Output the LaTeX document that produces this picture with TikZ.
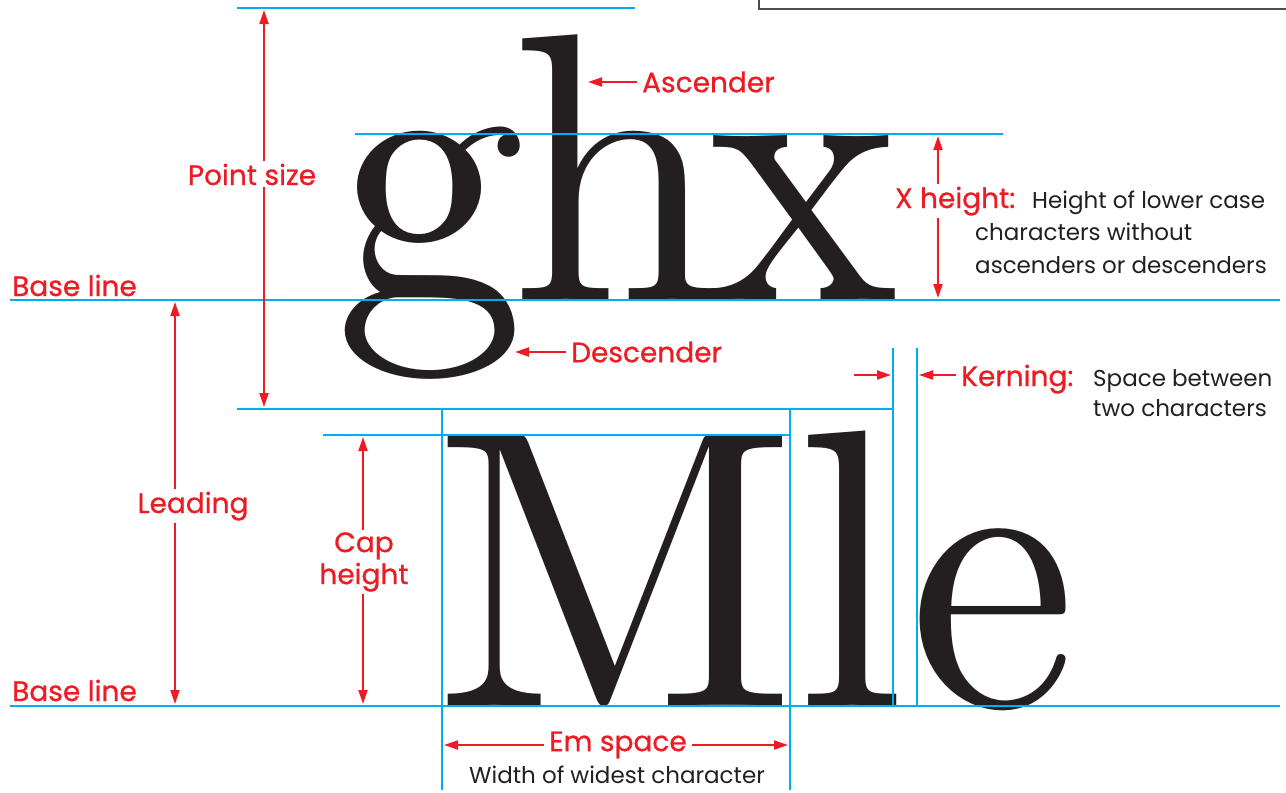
\documentclass[tikz,border=0pt]{standalone}
\usepackage{fontspec}
\newfontfamily\labelfont{Poppins}
\newfontfamily\headfont{Poppins}[FakeBold=0.8]
\newfontfamily\bigfont{lmroman10-regular.otf}
\usepackage{xcolor}
\definecolor{Col1}{RGB}{237,28,36}
\definecolor{Col2}{RGB}{0,174,239}
\definecolor{Col3}{RGB}{35,31,32}
\definecolor{Col4}{RGB}{77,77,77}
\usepackage{tikz}
\usetikzlibrary{arrows.meta}
\tikzstyle{Guide}=[draw=Col2,line width=2pt]
\tikzstyle{Frame}=[draw=Col4,line width=2pt]
\tikzstyle{Arrow}=[draw=Col1,line width=2pt,-{Triangle[length=14pt,width=9pt]}]
\tikzstyle{Label}=[text=Col1,inner xsep=5pt,inner ysep=2pt,font=\headfont\fontsize{28}{32}\selectfont,align=center]
\tikzstyle{Note}=[text=Col3,inner sep=0pt,font=\labelfont\fontsize{23}{32}\selectfont]
\tikzstyle{Glyph}=[text=Col3,inner sep=0pt,anchor=base,font=\bigfont\fontsize{383}{383}\selectfont]
\begin{document}
\begin{tikzpicture}[x=1pt,y=-1pt]
        \useasboundingbox(0,0)rectangle(1286,793);
        % frame of the box above
        \coordinate(f0)at(759,0);
        \coordinate(f1)at(759,9);
        \coordinate(f2)at(1286,9);
        \draw[Frame](f0)--(f1)--(f2);
        % big letters
        \node[Glyph](g)at(430,300){g};
        \node[Glyph](h)at(617,300){h};
        \node[Glyph,xscale=.95](x)at(804,300){x};
        \node[Glyph,font=\bigfont\fontsize{397}{397}\selectfont](M)at(616,706){M};
        \node[Glyph,font=\bigfont\fontsize{397}{397}\selectfont](l)at(851,706){l};
        \node[Glyph,font=\bigfont\fontsize{397}{397}\selectfont,xscale=.95](e)at(993,706){e};
        % guide lines
        \coordinate(t0)at(237,8);
        \coordinate(t1)at(635,8);
        \coordinate(a0)at(355,134);
        \coordinate(a1)at(1003,134);
        \coordinate(b0)at(10,300);
        \coordinate(b1)at(1280,300);
        \coordinate(d0)at(237,409);
        \coordinate(d1)at(893,409);
        \coordinate(c0)at(323,435);
        \coordinate(c1)at(790,435);
        \coordinate(e0)at(10,706);
        \coordinate(e1)at(1280,706);
        \coordinate(v0)at(442,409);
        \coordinate(v1)at(442,790);
        \coordinate(w0)at(790,409);
        \coordinate(w1)at(790,790);
        \coordinate(k0)at(893,348);
        \coordinate(k1)at(893,706);
        \coordinate(n0)at(917,348);
        \coordinate(n1)at(917,706);
        \draw[Guide](t0)--(t1);
        \draw[Guide](a0)--(a1);
        \draw[Guide](b0)--(b1);
        \draw[Guide](d0)--(d1);
        \draw[Guide](c0)--(c1);
        \draw[Guide](e0)--(e1);
        \draw[Guide](v0)--(v1);
        \draw[Guide](w0)--(w1);
        \draw[Guide](k0)--(d1)--(k1);
        \draw[Guide](n0)--(n1);
        % labels
        \node[Label,anchor=base west](bl1)at(7,296){Base line};
        \node[Label,anchor=base west](bl2)at(7,701){Base line};
        \node[Label,anchor=west](as)at(637,82){Ascender};
        \node[Label,anchor=west](ds)at(566,352){Descender};
        \node[Label,anchor=base](ps)at(252,185){Point size};
        \node[Label,anchor=base](ld)at(193,513){Leading};
        \node[Label](ch)at(364,562){Cap\\height};
        \node[Label,anchor=base west](xh)at(890,208){X height:};
        \node[Label,anchor=base west](kn)at(956,386){Kerning:};
        \node[Label](em)at(618,745){Em space};
        \node[Note,anchor=base west](xd1)at(1032,208){Height of lower case};
        \node[Note,anchor=base west](xd2)at(975,240){characters without};
        \node[Note,anchor=base west](xd3)at(975,273){ascenders or descenders};
        \node[Note,anchor=base west](kd1)at(1093,386){Space between};
        \node[Note,anchor=base west](kd2)at(1093,416){two characters};
        \node[Note,anchor=base](ed)at(617,783){Width of widest character};
        % arrows
        \coordinate(ast)at(588,82);
        \coordinate(dst)at(515,352);
        \coordinate(pst)at(264,10);
        \coordinate(psb)at(264,407);
        \coordinate(ldt)at(175,302);
        \coordinate(ldb)at(175,704);
        \coordinate(cht)at(363,437);
        \coordinate(chb)at(363,704);
        \coordinate(xht)at(938,136);
        \coordinate(xhb)at(938,298);
        \coordinate(kl)at(854,375);
        \coordinate(kr)at(891,375);
        \coordinate(kt)at(919,375);
        \coordinate(eml)at(444,745);
        \coordinate(emr)at(788,745);
        \draw[Arrow](as)--(ast);
        \draw[Arrow](ds)--(dst);
        \draw[Arrow](ps.north-|pst)--(pst);
        \draw[Arrow](ps.south-|psb)--(psb);
        \draw[Arrow](ld.north-|ldt)--(ldt);
        \draw[Arrow](ld.south-|ldb)--(ldb);
        \draw[Arrow](ch.north-|cht)--(cht);
        \draw[Arrow](ch.south-|chb)--(chb);
        \draw[Arrow](xh.north-|xht)--(xht);
        \draw[Arrow](xh.south-|xhb)--(xhb);
        \draw[Arrow](kl)--(kr);
        \draw[Arrow](kn.west|-kt)--(kt);
        \draw[Arrow](em.west)--(eml);
        \draw[Arrow](em.east)--(emr);
    \end{tikzpicture}
\end{document}
